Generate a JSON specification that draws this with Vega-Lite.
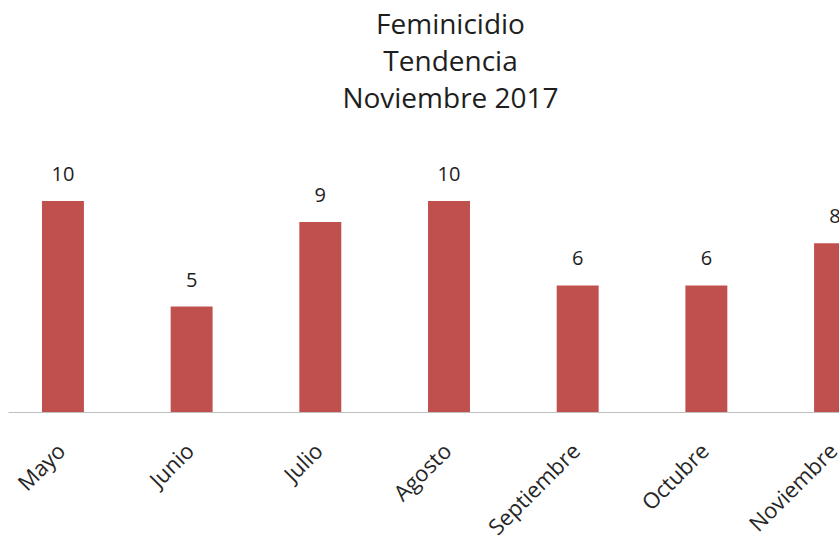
{
  "$schema": "https://vega.github.io/schema/vega-lite/v6.json",
  "width": 831,
  "height": 211,
  "autosize": "none",
  "padding": {"left": 8, "top": 201, "right": 0, "bottom": 127},
  "background": "white",
  "title": {
    "text": ["Feminicidio", "Tendencia", "Noviembre 2017"],
    "font": "Open Sans",
    "fontSize": 28,
    "fontWeight": "normal",
    "lineHeight": 37,
    "color": "#1e1e1e",
    "anchor": "middle",
    "frame": "group",
    "offset": 51,
    "dx": 27
  },
  "data": {
    "values": [
      {"mes": "Mayo", "casos": 10},
      {"mes": "Junio", "casos": 5},
      {"mes": "Julio", "casos": 9},
      {"mes": "Agosto", "casos": 10},
      {"mes": "Septiembre", "casos": 6},
      {"mes": "Octubre", "casos": 6},
      {"mes": "Noviembre", "casos": 8}
    ]
  },
  "encoding": {
    "x": {
      "field": "mes",
      "type": "nominal",
      "sort": null,
      "scale": {"range": [0, 882], "paddingInner": 0.674, "paddingOuter": 0.264},
      "axis": {
        "title": null,
        "labelAngle": -45,
        "labelFont": "Open Sans",
        "labelFontSize": 22,
        "labelColor": "#262626",
        "labelPadding": 28,
        "labelOffset": -8,
        "ticks": false,
        "domainColor": "#BFBFBF",
        "domainWidth": 1,
        "grid": false
      }
    },
    "y": {
      "field": "casos",
      "type": "quantitative",
      "scale": {"domain": [0, 10]},
      "axis": null
    }
  },
  "layer": [
    {"mark": {"type": "bar", "color": "#C0504D"}},
    {
      "mark": {"type": "text", "baseline": "bottom", "dy": -16, "font": "Open Sans", "fontSize": 20, "color": "#1e1e1e"},
      "encoding": {"text": {"field": "casos", "type": "quantitative"}}
    }
  ],
  "config": {"view": {"stroke": null}}
}
